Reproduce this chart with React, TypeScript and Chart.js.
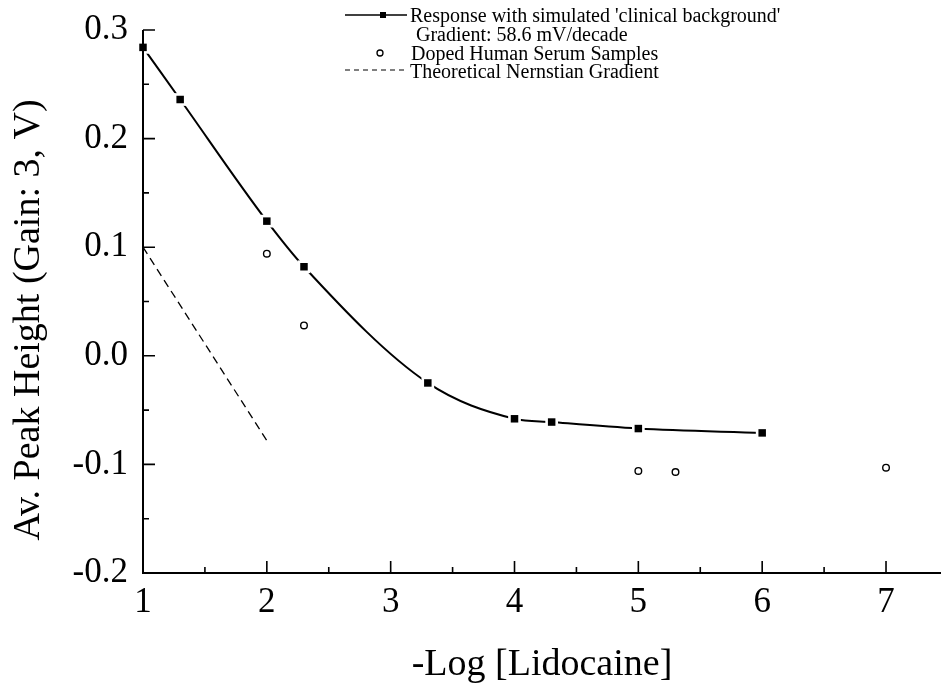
import { useEffect, useRef } from "react";
import { Chart, registerables } from "chart.js";

Chart.register(...registerables);

// ---- data ----
const respX = [1, 1.3, 2, 2.3, 3.3, 4, 4.3, 5, 6];
const respY = [0.284, 0.236, 0.124, 0.082, -0.025, -0.058, -0.061, -0.067, -0.071];
const serumX = [2, 2.3, 5, 5.3, 7];
const serumY = [0.094, 0.028, -0.106, -0.107, -0.103];
const theoryX = [1, 2];
const theoryY = [0.1, -0.078];

const xTickValues = [1, 2, 3, 4, 5, 6, 7];
const xMinorValues = [1.5, 2.5, 3.5, 4.5, 5.5, 6.5];
const yTickValues = [-0.2, -0.1, 0, 0.1, 0.2, 0.3];
const yMinorValues = [-0.15, -0.05, 0.05, 0.15, 0.25];

const legendLabels = [
  "Response with simulated 'clinical background'",
  "Gradient: 58.6 mV/decade",
  "Doped Human Serum Samples",
  "Theoretical Nernstian Gradient",
];
const xTitle = "-Log [Lidocaine]";
const yTitle = "Av. Peak Height (Gain: 3, V)";

const FONT = "'Liberation Serif', 'Times New Roman', Times, serif";

const pts = (xs: number[], ys: number[]) => xs.map((x, i) => ({ x, y: ys[i] }));

const axesPlugin = {
  id: "originAxes",
  afterDatasetsDraw(chart: any) {
    const { ctx, chartArea, scales } = chart;
    const x = scales.x;
    const y = scales.y;
    const left = chartArea.left;
    const bottom = chartArea.bottom;
    ctx.save();
    ctx.strokeStyle = "#000";
    ctx.lineWidth = 2;
    ctx.beginPath();
    ctx.moveTo(left, y.getPixelForValue(0.3));
    ctx.lineTo(left, bottom);
    ctx.lineTo(chartArea.right, bottom);
    ctx.stroke();
    ctx.lineWidth = 1.6;
    ctx.beginPath();
    xTickValues.forEach((v) => {
      const px = x.getPixelForValue(v);
      ctx.moveTo(px, bottom);
      ctx.lineTo(px, bottom - 12);
    });
    xMinorValues.forEach((v) => {
      const px = x.getPixelForValue(v);
      ctx.moveTo(px, bottom);
      ctx.lineTo(px, bottom - 6);
    });
    yTickValues.forEach((v) => {
      const py = y.getPixelForValue(v);
      ctx.moveTo(left, py);
      ctx.lineTo(left + 12, py);
    });
    yMinorValues.forEach((v) => {
      const py = y.getPixelForValue(v);
      ctx.moveTo(left, py);
      ctx.lineTo(left + 6, py);
    });
    ctx.stroke();
    ctx.restore();
  },
};

const yTitlePlugin = {
  id: "yTitle",
  afterDraw(chart: any) {
    const { ctx } = chart;
    ctx.save();
    ctx.fillStyle = "#000";
    ctx.font = `38px ${FONT}`;
    ctx.textAlign = "center";
    ctx.textBaseline = "middle";
    ctx.translate(29, 320);
    ctx.rotate(-Math.PI / 2);
    ctx.fillText(yTitle, 0, 0);
    ctx.restore();
  },
};

const legendPlugin = {
  id: "originLegend",
  afterDraw(chart: any) {
    const { ctx } = chart;
    ctx.save();
    ctx.fillStyle = "#000";
    ctx.strokeStyle = "#000";
    ctx.font = `20px ${FONT}`;
    ctx.textBaseline = "alphabetic";
    ctx.textAlign = "left";
    const baselines = [22, 40.5, 59.5, 77.5];
    const textX = [410, 416, 411, 410];
    legendLabels.forEach((t, i) => ctx.fillText(t, textX[i], baselines[i]));
    // row 1 symbol: line with square
    ctx.lineWidth = 1.5;
    ctx.beginPath();
    ctx.moveTo(345, 15);
    ctx.lineTo(407, 15);
    ctx.stroke();
    ctx.fillRect(380, 12, 6, 6);
    // row 3 symbol: open circle
    ctx.beginPath();
    ctx.arc(380, 53, 3, 0, Math.PI * 2);
    ctx.fillStyle = "#fff";
    ctx.fill();
    ctx.lineWidth = 1.3;
    ctx.stroke();
    // row 4 symbol: dashed line
    ctx.setLineDash([5, 4]);
    ctx.lineWidth = 1.2;
    ctx.beginPath();
    ctx.moveTo(345, 70);
    ctx.lineTo(406, 70);
    ctx.stroke();
    ctx.restore();
  },
};

export default function App() {
  const ref = useRef<HTMLCanvasElement>(null);
  useEffect(() => {
    const chart = new Chart(ref.current as HTMLCanvasElement, {
      type: "scatter",
      data: {
        datasets: [
          {
            label: "curve",
            data: pts(respX, respY),
            showLine: true,
            borderColor: "#000",
            borderWidth: 2,
            pointRadius: 0,
            cubicInterpolationMode: "monotone",
            clip: false,
            order: 5,
          } as any,
          {
            label: "mask",
            data: pts(respX, respY),
            showLine: false,
            pointStyle: "rect",
            pointRadius: 9,
            backgroundColor: "#fff",
            borderWidth: 0,
            clip: false,
            order: 4,
          } as any,
          {
            label: legendLabels[0],
            data: pts(respX, respY),
            showLine: false,
            pointStyle: "rect",
            pointRadius: 5.3,
            backgroundColor: "#000",
            borderColor: "#000",
            borderWidth: 0,
            clip: false,
            order: 1,
          } as any,
          {
            label: legendLabels[2],
            data: pts(serumX, serumY),
            showLine: false,
            pointStyle: "circle",
            pointRadius: 3.3,
            backgroundColor: "#fff",
            borderColor: "#000",
            borderWidth: 1.4,
            clip: false,
            order: 2,
          } as any,
          {
            label: legendLabels[3],
            data: pts(theoryX, theoryY),
            showLine: true,
            borderColor: "#000",
            borderWidth: 1.3,
            borderDash: [8, 5],
            pointRadius: 0,
            clip: false,
            order: 3,
          } as any,
        ],
      },
      options: {
        responsive: false,
        animation: false,
        devicePixelRatio: 1,
        layout: { autoPadding: false, padding: { top: 30, right: 0, bottom: 0, left: 0 } },
        plugins: {
          legend: { display: false },
          tooltip: { enabled: false },
        },
        events: [],
        scales: {
          x: {
            type: "linear",
            min: 1,
            max: 7.444,
            grid: { display: false, drawTicks: false },
            border: { display: false },
            afterFit: (s: any) => {
              s.height = 111;
              s.paddingLeft = 0;
              s.paddingRight = 0;
            },
            afterBuildTicks: (s: any) => {
              s.ticks = xTickValues.map((v) => ({ value: v }));
            },
            ticks: {
              color: "#000",
              padding: 9,
              maxRotation: 0,
              autoSkip: false,
              font: { family: FONT, size: 35 },
              callback: (v: any) => String(v),
            },
            title: {
              display: true,
              text: xTitle,
              color: "#000",
              font: { family: FONT, size: 38, lineHeight: 1 },
              padding: { top: 1, bottom: 0 },
            },
          },
          y: {
            type: "linear",
            min: -0.2,
            max: 0.3,
            grid: { display: false, drawTicks: false },
            border: { display: false },
            afterFit: (s: any) => {
              s.width = 143;
              s.paddingTop = 0;
              s.paddingBottom = 0;
            },
            afterBuildTicks: (s: any) => {
              s.ticks = yTickValues.map((v) => ({ value: v }));
            },
            ticks: {
              color: "#000",
              padding: 15,
              autoSkip: false,
              font: { family: FONT, size: 35 },
              callback: (v: any) => Number(v).toFixed(1),
            },
            title: { display: false },
          },
        },
      },
      plugins: [axesPlugin, yTitlePlugin, legendPlugin],
    } as any);
    return () => chart.destroy();
  }, []);
  return (
    <div style={{ position: "fixed", left: 0, top: 0, width: 941, height: 684, background: "#fff" }}>
      <canvas ref={ref} width={941} height={684} style={{ display: "block" }} />
    </div>
  );
}
